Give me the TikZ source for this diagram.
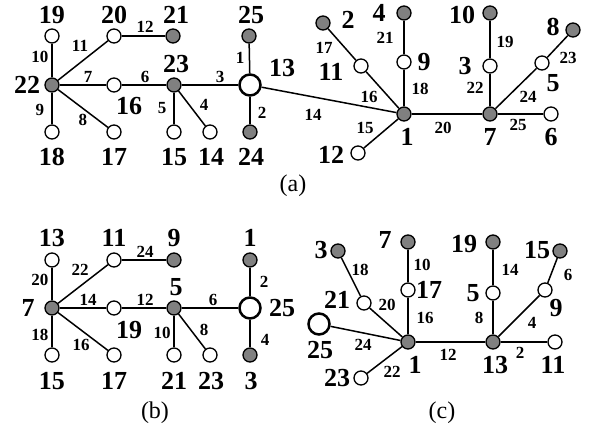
\documentclass[tikz,border=0pt]{standalone}
\usepackage{fontspec}
\setmainfont{Liberation Serif}
\usepackage{tikz}
\usetikzlibrary{positioning, calc}
\definecolor{busGray}{RGB}{128, 128, 128}

\tikzset{
    wbus/.style={circle, draw, line width=0.65pt, fill=white, minimum size=7pt, inner sep=0pt},
    gbus/.style={circle, draw, line width=0.65pt, fill=busGray, minimum size=7pt, inner sep=0pt},
    rootbus/.style={circle, draw, line width=1.25pt, fill=white, minimum size=10.5pt, inner sep=0pt},
    buslab/.style={font=\fontsize{13}{13}\selectfont\bfseries, inner sep=0pt},
    linelab/.style={font=\fontsize{8.5}{9}\selectfont\bfseries, inner sep=0pt},
    caplab/.style={font=\fontsize{12}{12}\selectfont, inner sep=0pt},
    branch/.style={line width=0.75pt}
}

\begin{document}
\begin{tikzpicture}[x=0.5pt, y=-0.5pt]
    \useasboundingbox (0,0) rectangle (590,435);

    % Tree (a)
    \begin{scope}
        \foreach \n/\x/\y in {19/52/36, 20/114/36, 16/114/85, 18/52/132, 17/114/132,
                              15/174/132, 14/210/132, 11/361/66, 9/404/62, 12/358/153,
                              3/490/66, 5/542/63, 6/551/114} {
            \node[wbus] (a\n) at (\x,\y) {};
        }
        \foreach \n/\x/\y in {21/173/36, 25/249/36, 22/52/85, 23/174/85, 24/250/132,
                              2/323/23, 4/404/13, 1/404/114, 10/490/13, 7/490/114, 8/573/30} {
            \node[gbus] (a\n) at (\x,\y) {};
        }
        \node[rootbus] (a13) at (250,85) {};

        \foreach \u/\v in {22/19, 22/20, 20/21, 22/16, 16/23, 23/13, 13/25, 13/24,
                           22/18, 22/17, 23/15, 23/14, 13/1, 1/11, 11/2, 1/9, 9/4,
                           1/12, 1/7, 7/3, 3/10, 7/5, 5/8, 7/6} {
            \draw[branch] (a\u) -- (a\v);
        }

        % bus numbers
        \foreach \t/\x/\y in {19/52/15, 20/114/15, 21/176/15, 25/251/15, 22/27/85,
                              16/129/106, 23/176/64, 13/282/68, 18/52/157, 17/114/157,
                              15/174/157, 14/211/157, 24/251/157, 2/348/20, 4/379/13,
                              11/331/72, 9/424/62, 1/407/137, 12/331/155, 10/462/15,
                              3/465/66, 7/490/137, 8/553/27, 5/553/83, 6/551/137} {
            \node[buslab] (la\t) at (\x,\y) {\t};
        }
        % line numbers
        \foreach \t/\x/\y in {10/40/57, 11/80/46, 12/145/27, 7/88/77, 6/145/77, 3/220/77,
                              1/240/58, 9/40/110, 8/83/120, 5/162/108, 4/204/105, 2/262/113,
                              14/313/115, 17/324/48, 21/385/38, 16/369/97, 18/420/89,
                              15/365/128, 20/443/128, 19/505/42, 22/475/88, 24/528/97,
                              23/568/58, 25/518/125} {
            \node[linelab] (ea\t) at (\x,\y) {\t};
        }
        \node[caplab] (capa) at (293,186) {(a)};
    \end{scope}

    % Tree (b)
    \begin{scope}
        \foreach \n/\x/\y in {13/52/260, 11/114/260, 19/114/308, 15/52/355, 17/114/355,
                              21/174/355, 23/210/355} {
            \node[wbus] (b\n) at (\x,\y) {};
        }
        \foreach \n/\x/\y in {9/174/260, 1/250/260, 7/52/308, 5/174/308, 3/250/355} {
            \node[gbus] (b\n) at (\x,\y) {};
        }
        \node[rootbus] (b25) at (250,308) {};

        \foreach \u/\v in {7/13, 7/11, 11/9, 7/19, 19/5, 5/25, 25/1, 25/3,
                           7/15, 7/17, 5/21, 5/23} {
            \draw[branch] (b\u) -- (b\v);
        }

        \foreach \t/\x/\y in {13/52/238, 11/114/238, 9/174/238, 1/250/238, 7/28/308,
                              19/129/330, 5/176/287, 25/282/308, 15/52/381, 17/114/381,
                              21/174/381, 23/211/381, 3/251/381} {
            \node[buslab] (lb\t) at (\x,\y) {\t};
        }
        \foreach \t/\x/\y in {20/40/280, 22/80/270, 24/145/252, 14/88/300, 12/145/300,
                              6/213/300, 2/264/282, 18/40/335, 16/81/345, 10/162/333,
                              8/204/330, 4/265/340} {
            \node[linelab] (eb\t) at (\x,\y) {\t};
        }
        \node[caplab] (capb) at (155,413) {(b)};
    \end{scope}

    % Tree (c)
    \begin{scope}
        \foreach \n/\x/\y in {21/364/303, 17/408/290, 5/493/293, 9/545/290,
                              11/555/342, 23/361/378} {
            \node[wbus] (c\n) at (\x,\y) {};
        }
        \foreach \n/\x/\y in {3/338/251, 7/408/242, 19/493/242, 15/560/251,
                              1/408/342, 13/493/342} {
            \node[gbus] (c\n) at (\x,\y) {};
        }
        \node[rootbus] (c25) at (319,324) {};

        \foreach \u/\v in {1/21, 21/3, 1/17, 17/7, 1/25, 1/23, 1/13, 13/5, 5/19,
                           13/9, 9/15, 13/11} {
            \draw[branch] (c\u) -- (c\v);
        }

        \foreach \t/\x/\y in {3/321/250, 7/385/240, 19/464/244, 15/537/250, 21/337/300,
                              17/429/290, 5/473/293, 9/556/308, 25/320/350, 1/415/365,
                              13/495/365, 11/553/365, 23/337/378} {
            \node[buslab] (lc\t) at (\x,\y) {\t};
        }
        \foreach \t/\x/\y in {18/360/270, 20/387/305, 10/422/265, 16/425/318, 14/510/270,
                              8/479/318, 6/568/275, 4/532/323, 24/363/345, 22/392/372,
                              12/448/355, 2/520/353} {
            \node[linelab] (ec\t) at (\x,\y) {\t};
        }
        \node[caplab] (capc) at (442,413) {(c)};
    \end{scope}
\end{tikzpicture}
\end{document}
